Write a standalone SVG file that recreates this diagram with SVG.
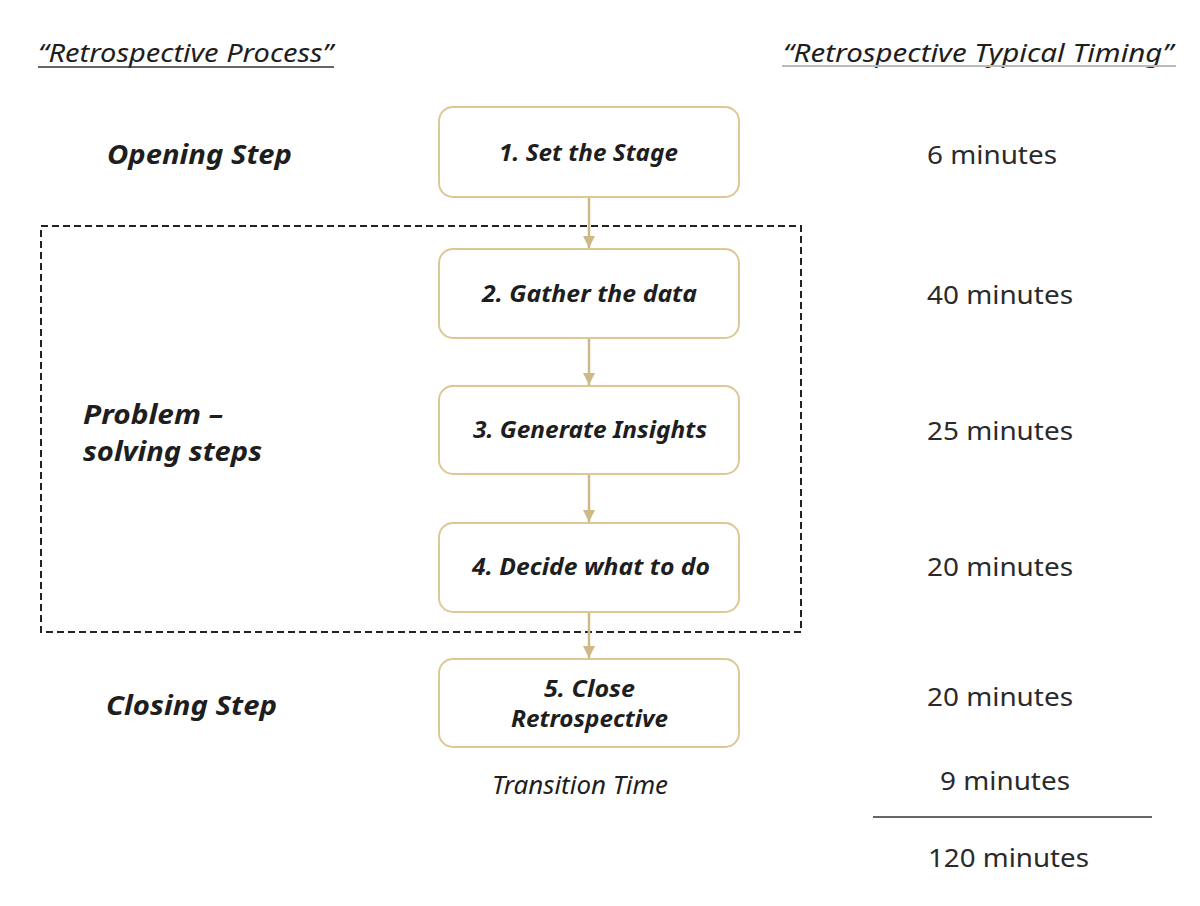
<svg xmlns="http://www.w3.org/2000/svg" width="1200" height="906" viewBox="0 0 1200 906">
<defs>
<marker id="ah" viewBox="0 0 10 10" refX="10" refY="5" markerWidth="12" markerHeight="12" markerUnits="userSpaceOnUse" orient="auto">
<path d="M0,0 L10,5 L0,10 z" fill="#cdb985"/>
</marker>
<style>
.t{font-family:"Noto Sans","Open Sans","Liberation Sans",sans-serif;fill:#1e1e1e}
.hdr{font-size:26px;font-style:italic}
.side{font-size:26px;font-style:italic;font-weight:bold}
.box rect{fill:#fff;stroke:#dcc894;stroke-width:2}
.lbl{font-size:23px;font-style:italic;font-weight:bold}
.tm{font-size:26px;fill:#2a2a2a}
.con{stroke:#cdb985;stroke-width:2.5;fill:none}
</style>
</defs>
<rect width="1200" height="906" fill="#fff"/>

<g id="headers">
<text class="t hdr" x="38" y="62" textLength="295" lengthAdjust="spacingAndGlyphs">“Retrospective Process”</text>
<line x1="38" y1="67" x2="334" y2="67" stroke="#333" stroke-width="1.5"/>
<text class="t hdr" x="783" y="62" textLength="390" lengthAdjust="spacingAndGlyphs">“Retrospective Typical Timing”</text>
<line x1="782" y1="66" x2="1176" y2="66" stroke="#bbb" stroke-width="2"/>
</g>

<g id="phase-labels">
<text class="t side" x="107" y="164" textLength="185" lengthAdjust="spacingAndGlyphs">Opening Step</text>
<text class="t side" x="83" y="424" textLength="140" lengthAdjust="spacingAndGlyphs">Problem –</text>
<text class="t side" x="83" y="461" textLength="179" lengthAdjust="spacingAndGlyphs">solving steps</text>
<text class="t side" x="106" y="715" textLength="171" lengthAdjust="spacingAndGlyphs">Closing Step</text>
</g>

<g id="problem-group">
<rect x="41" y="226" width="760" height="406" fill="none" stroke="#222" stroke-width="2" stroke-dasharray="7,4"/>
</g>

<g id="connectors">
<line class="con" x1="589" y1="197" x2="589" y2="248" marker-end="url(#ah)"/>
<line class="con" x1="589" y1="338" x2="589" y2="385" marker-end="url(#ah)"/>
<line class="con" x1="589" y1="474" x2="589" y2="522" marker-end="url(#ah)"/>
<line class="con" x1="589" y1="612" x2="589" y2="658" marker-end="url(#ah)"/>
</g>

<g id="step1" class="box">
<rect x="439" y="107" width="300" height="90" rx="14"/>
<text class="t lbl" x="499" y="161" textLength="179" lengthAdjust="spacingAndGlyphs">1. Set the Stage</text>
</g>
<g id="step2" class="box">
<rect x="439" y="249" width="300" height="89" rx="14"/>
<text class="t lbl" x="482" y="302" textLength="215" lengthAdjust="spacingAndGlyphs">2. Gather the data</text>
</g>
<g id="step3" class="box">
<rect x="439" y="386" width="300" height="88" rx="14"/>
<text class="t lbl" x="473" y="438" textLength="234" lengthAdjust="spacingAndGlyphs">3. Generate Insights</text>
</g>
<g id="step4" class="box">
<rect x="439" y="523" width="300" height="89" rx="14"/>
<text class="t lbl" x="472" y="575" textLength="238" lengthAdjust="spacingAndGlyphs">4. Decide what to do</text>
</g>
<g id="step5" class="box">
<rect x="439" y="659" width="300" height="88" rx="14"/>
<text class="t lbl" x="544" y="697" textLength="91" lengthAdjust="spacingAndGlyphs">5. Close</text>
<text class="t lbl" x="511" y="727" textLength="157" lengthAdjust="spacingAndGlyphs">Retrospective</text>
</g>

<g id="transition">
<text class="t" x="492" y="794" font-size="25" font-style="italic" fill="#333" textLength="176" lengthAdjust="spacingAndGlyphs">Transition Time</text>
</g>

<g id="timings">
<text class="t tm" x="927" y="164" textLength="130" lengthAdjust="spacingAndGlyphs">6 minutes</text>
<text class="t tm" x="927" y="304" textLength="146" lengthAdjust="spacingAndGlyphs">40 minutes</text>
<text class="t tm" x="927" y="440" textLength="146" lengthAdjust="spacingAndGlyphs">25 minutes</text>
<text class="t tm" x="927" y="576" textLength="146" lengthAdjust="spacingAndGlyphs">20 minutes</text>
<text class="t tm" x="927" y="706" textLength="146" lengthAdjust="spacingAndGlyphs">20 minutes</text>
<text class="t tm" x="940" y="790" textLength="130" lengthAdjust="spacingAndGlyphs">9 minutes</text>
<line x1="873" y1="817" x2="1152" y2="817" stroke="#333" stroke-width="1.5"/>
<text class="t tm" x="928" y="867" textLength="161" lengthAdjust="spacingAndGlyphs">120 minutes</text>
</g>
</svg>
